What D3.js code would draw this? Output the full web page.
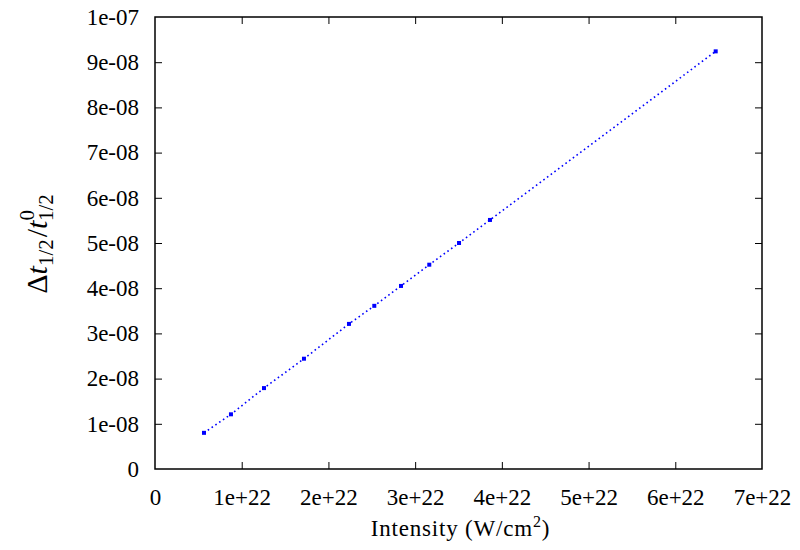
<!DOCTYPE html>
<html>
<head>
<meta charset="utf-8">
<script src="https://cdn.jsdelivr.net/npm/d3@7"></script>
<style>
  body { margin: 0; background: #fff; }
</style>
</head>
<body>
<svg id="chart" width="800" height="550"></svg>
<script>
// intensity in W/cm^2 and relative half-life shift
const intensity = [0.565e22, 0.876e22, 1.257e22, 1.718e22, 2.237e22, 2.529e22, 2.837e22, 3.163e22, 3.506e22, 3.863e22, 6.466e22];
const shift = [8.0e-9, 12.1e-9, 17.9e-9, 24.4e-9, 32.1e-9, 36.1e-9, 40.5e-9, 45.2e-9, 50.0e-9, 55.1e-9, 92.4e-9];
const xTicks = [0, 1e22, 2e22, 3e22, 4e22, 5e22, 6e22, 7e22];
const xTickLabels = ["0", "1e+22", "2e+22", "3e+22", "4e+22", "5e+22", "6e+22", "7e+22"];
const yTicks = [0, 1e-8, 2e-8, 3e-8, 4e-8, 5e-8, 6e-8, 7e-8, 8e-8, 9e-8, 1e-7];
const yTickLabels = ["0", "1e-08", "2e-08", "3e-08", "4e-08", "5e-08", "6e-08", "7e-08", "8e-08", "9e-08", "1e-07"];

const FONT = "'Liberation Serif'";
const width = 800, height = 550;
const margin = {top: 17, right: 38, bottom: 81, left: 155};
const iw = width - margin.left - margin.right;
const ih = height - margin.top - margin.bottom;

const svg = d3.select("#chart");

const g = svg.append("g")
  .attr("transform", `translate(${margin.left},${margin.top})`);

const x = d3.scaleLinear().domain([0, 7e22]).range([0, iw]);
const y = d3.scaleLinear().domain([0, 1e-7]).range([ih, 0]);

const tickLen = 7;

// bottom axis + labels
const xAxis = d3.axisBottom(x)
  .tickValues(xTicks)
  .tickSize(-tickLen)
  .tickPadding(tickLen + 13)
  .tickFormat((d, i) => xTickLabels[i]);
const gx = g.append("g").attr("transform", `translate(0,${ih})`).call(xAxis);

// left axis + labels
const yAxis = d3.axisLeft(y)
  .tickValues(yTicks)
  .tickSize(-tickLen)
  .tickPadding(tickLen + 9)
  .tickFormat((d, i) => yTickLabels[i]);
const gy = g.append("g").call(yAxis);

// mirrored ticks, no labels
const gt = g.append("g").call(d3.axisTop(x).tickValues(xTicks).tickSize(-tickLen).tickFormat(""));
const gr = g.append("g").attr("transform", `translate(${iw},0)`)
  .call(d3.axisRight(y).tickValues(yTicks).tickSize(-tickLen).tickFormat(""));

[gx, gy, gt, gr].forEach(a => {
  a.select(".domain").remove();
  a.selectAll(".tick line").attr("stroke", "#000").attr("stroke-width", 1);
  a.selectAll(".tick text")
    .attr("fill", "#000")
    .style("font-family", FONT)
    .style("font-size", "23px");
});
[gx, gy, gt, gr].forEach(a => a.selectAll(".tick line").filter((d, i, n) => i === 0 || i === n.length - 1).remove());

g.append("rect")
  .attr("width", iw).attr("height", ih)
  .attr("fill", "none").attr("stroke", "#000").attr("stroke-width", 1.5);

// data
const pts = intensity.map((v, i) => [v, shift[i]]);
const line = d3.line().x(d => x(d[0])).y(d => y(d[1]));

g.append("path")
  .datum(pts)
  .attr("d", line)
  .attr("fill", "none")
  .attr("stroke", "#0000ff")
  .attr("stroke-width", 1.6)
  .attr("stroke-dasharray", "1.6,3");

g.selectAll("rect.pt")
  .data(pts)
  .enter().append("rect")
  .attr("class", "pt")
  .attr("x", d => x(d[0]) - 2)
  .attr("y", d => y(d[1]) - 2)
  .attr("width", 4).attr("height", 4)
  .attr("fill", "#0000ff");

// axis titles
const xl = svg.append("text")
  .attr("x", margin.left + iw / 2 + 2)
  .attr("y", 536)
  .attr("text-anchor", "middle")
  .style("font-family", FONT)
  .style("font-size", "23px")
  .style("letter-spacing", "0.8px");
xl.append("tspan").text("Intensity (W/cm");
xl.append("tspan").attr("dy", -9).style("font-size", "16px").text("2");
xl.append("tspan").attr("dy", 9).text(")");

const yl = svg.append("text")
  .attr("transform", "translate(47,244) rotate(-90)")
  .attr("text-anchor", "middle")
  .style("font-family", FONT)
  .style("font-size", "30px");
yl.append("tspan").text("Δ");
yl.append("tspan").style("font-style", "italic").text("t");
yl.append("tspan").attr("dy", 6).style("font-size", "21px").text("1/2");
yl.append("tspan").attr("dy", -6).attr("dx", 2).text("/");
yl.append("tspan").style("font-style", "italic").text("t");
yl.append("tspan").attr("dy", -13).style("font-size", "21px").text("0");
yl.append("tspan").attr("dx", -11).attr("dy", 19).style("font-size", "21px").text("1/2");
</script>
</body>
</html>
